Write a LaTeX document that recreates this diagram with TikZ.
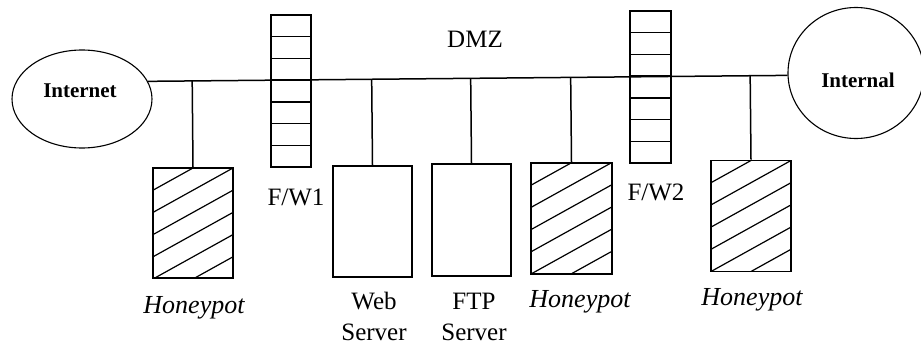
\documentclass[tikz,border=0pt]{standalone}
\usepackage{fontspec}
\setmainfont{Liberation Serif}
\usetikzlibrary{calc,shapes.geometric}
\begin{document}
\begin{tikzpicture}[x=1pt,y=-1pt,
  lbl/.style={font=\fontsize{25}{30}\selectfont, inner sep=0pt, anchor=base},
  clbl/.style={font=\fontsize{21}{26}\selectfont\bfseries, inner sep=0pt, anchor=base},
  hlbl/.style={font=\fontsize{26}{30}\selectfont\itshape, inner sep=0pt, anchor=base},
  cloudnet/.style={ellipse, draw, line width=1.1pt, inner sep=0pt},
  wire/.style={line width=1.5pt},
  srvbox/.style={draw, line width=1.7pt, inner sep=0pt, minimum width=79pt, minimum height=111pt},
  hpbox/.style={srvbox, path picture={
      \foreach \k in {1,...,6}{
        \draw[line width=1.2pt] ($(path picture bounding box.north west)+(0,\k*22.2)$) -- ++(80,-44.4);}}},
  fwbox/.style={draw, line width=1.7pt, inner sep=0pt, minimum width=40pt, minimum height=152pt,
    path picture={
      \foreach \i in {1,...,6}{
        \draw[line width=1.5pt] ($(path picture bounding box.north west)!\i/7!(path picture bounding box.south west)$) -- ++(41,0);}}}
]
\useasboundingbox (0,0) rectangle (921,345);

% clouds
\node[cloudnet, minimum width=140pt, minimum height=98pt] (inet) at (82,99) {};
\node[cloudnet, minimum width=136pt, minimum height=131pt] (intl) at (856,73) {};
\node[clbl] (inetl) at (80,97) {Internet};
\node[clbl] (intll) at (858,88) {Internal};

% bus
\coordinate (busL) at (inet.15);
\coordinate (busR) at (intl.182);
\draw[wire] (busL) -- (busR);

% firewalls
\node[fwbox] (fw1) at (291,91) {};
\node[fwbox, minimum width=41pt] (fw2) at (650.5,87) {};
\node[lbl] (fw1l) at (296,205) {F/W1};
\node[lbl] (fw2l) at (656,200) {F/W2};
\node[lbl] (dmz) at (475,48) {DMZ};

% hosts
\node[hpbox, minimum width=80pt, minimum height=110pt] (hp1) at (193,223) {};
\node[srvbox] (web) at (372.5,221.5) {};
\node[srvbox, minimum height=112pt] (ftp) at (471.5,220) {};
\node[hpbox, minimum width=81pt] (hp2) at (571.5,218.5) {};
\node[hpbox, minimum width=80pt] (hp3) at (751,216) {};

% connectors
\foreach \n in {hp1,web,ftp,hp2,hp3}{
  \draw[wire] (\n.north) -- ($(busL)!(\n.north)!(busR)$);
}

% labels
\node[hlbl] (hp1l) at (194,313) {Honeypot};
\node[hlbl] (hp2l) at (580,307) {Honeypot};
\node[hlbl] (hp3l) at (752,305) {Honeypot};
\node[lbl] (webl) at (374,309) {Web};
\node[lbl] (webs) at (374,340) {Server};
\node[lbl] (ftpl) at (474,309) {FTP};
\node[lbl] (ftps) at (474,340) {Server};
\end{tikzpicture}
\end{document}
